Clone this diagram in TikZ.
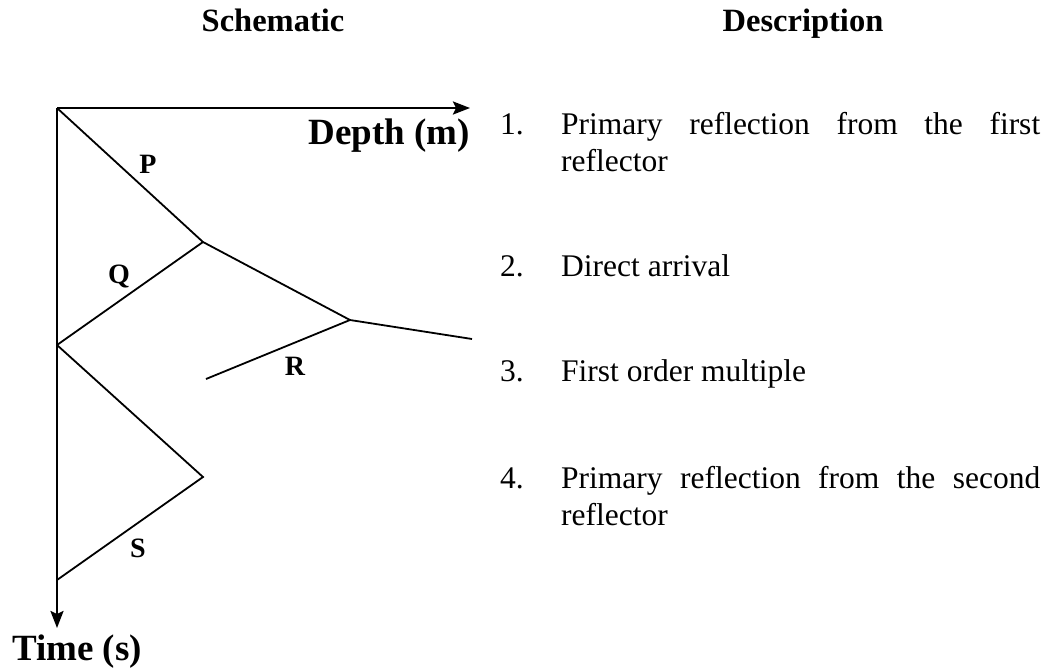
\documentclass[tikz,border=0pt]{standalone}
\usepackage{fontspec}
\setmainfont{Liberation Serif}
\usetikzlibrary{arrows.meta}
\begin{document}
\hyphenpenalty=10000\relax
\exhyphenpenalty=10000\relax
\tolerance=10000\relax
\begin{tikzpicture}[x=1pt,y=-1pt,
  axis/.style={line width=2.4pt,-{Stealth[length=17pt,width=13pt,inset=3pt]}},
  ray/.style={line width=1.8pt, line join=miter},
  lbl/.style={font=\fontsize{28}{28}\selectfont\bfseries, inner sep=0pt, anchor=base},
  axlbl/.style={font=\fontsize{37}{37}\selectfont\bfseries, inner sep=0pt},
  head/.style={font=\fontsize{32.5}{32.5}\selectfont\bfseries, inner sep=0pt, anchor=base},
  num/.style={font=\fontsize{31.5}{36}\selectfont, inner sep=0pt, anchor=base west},
  desc/.style={font=\fontsize{31.5}{37}\selectfont,
    inner sep=0pt, anchor=base west, text width=479pt, align=justify},
]
\useasboundingbox (0,0) rectangle (1052,670);

% headers
\node[head] (h1) at (273,31) {Schematic};
\node[head] (h2) at (803,31) {Description};

% points
\coordinate (O) at (57,108);
\coordinate (X) at (470,108);
\coordinate (Y) at (57,628);
\coordinate (A) at (203,242);
\coordinate (B) at (350,320);
\coordinate (C) at (472,339);
\coordinate (D) at (57,345);
\coordinate (E) at (206,379);
\coordinate (F) at (203,477);
\coordinate (G) at (57,580);

% axes
\draw[axis] (O) -- (X);
\draw[axis] (O) -- (Y);
\node[axlbl, anchor=base east] (dl) at (470,144) {Depth (m)};
\node[axlbl, anchor=base west] (tl) at (12,660) {Time (s)};

% rays
\draw[ray] (O) -- (A) -- (B) -- (C);
\draw[ray] (D) -- (A);
\draw[ray] (E) -- (B);
\draw[ray] (D) -- (F) -- (G);

% labels
\node[lbl] (P) at (148,173) {P};
\node[lbl] (Q) at (119,283) {Q};
\node[lbl] (R) at (295,375) {R};
\node[lbl] (S) at (138,557) {S};

% description list
\node[num] (n1) at (500,134) {1.};
\node[desc] (d1) at (561,134) {Primary reflection from the first reflector};
\node[num] (n2) at (500,276) {2.};
\node[desc] (d2) at (561,276) {Direct arrival};
\node[num] (n3) at (500,381) {3.};
\node[desc] (d3) at (561,381) {First order multiple};
\node[num] (n4) at (500,488) {4.};
\node[desc] (d4) at (561,488) {Primary reflection from the second reflector};
\end{tikzpicture}
\end{document}
